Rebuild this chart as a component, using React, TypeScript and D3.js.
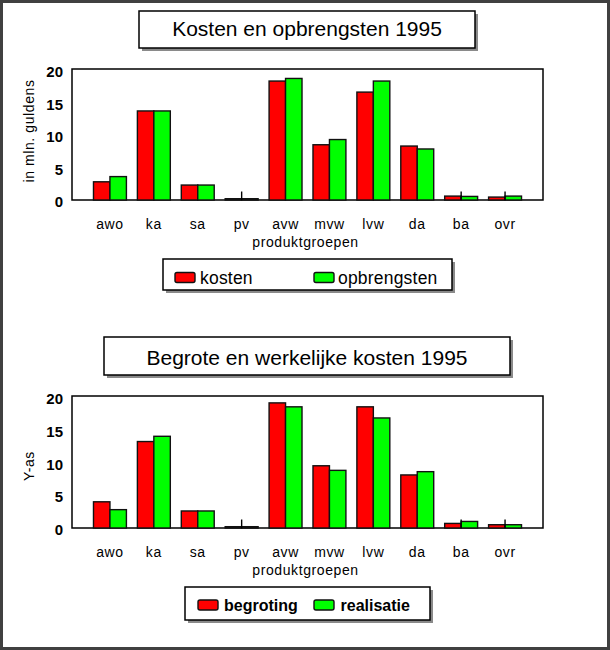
import React from "react";
import * as d3 from "d3";

const categories = ["awo", "ka", "sa", "pv", "avw", "mvw", "lvw", "da", "ba", "ovr"];
const kosten = [2.8, 13.7, 2.3, 0.2, 18.3, 8.5, 16.6, 8.3, 0.6, 0.45];
const opbrengsten = [3.6, 13.7, 2.3, 0.2, 18.7, 9.3, 18.3, 7.85, 0.55, 0.6];
const begroting = [4.0, 13.2, 2.6, 0.2, 19.1, 9.5, 18.5, 8.1, 0.7, 0.5];
const realisatie = [2.8, 14.0, 2.6, 0.2, 18.5, 8.8, 16.8, 8.6, 1.0, 0.5];
const yTicks = [0, 5, 10, 15, 20];
const seriesColors = ["#ff0000", "#00ff00"];

const FONT = "'Liberation Sans', Arial, Helvetica, sans-serif";

type ChartProps = {
  title: string;
  titleBox: [number, number, number, number];
  titleBaseline: number;
  plotTop: number;
  plotBottom: number;
  yLabel: string;
  yLabelCenter: number;
  series: number[][];
  names: string[];
  legendBox: [number, number, number, number];
  swatchX: [number, number];
  textX: [number, number];
  swatchY: number;
  legendBaseline: number;
  legendBold: boolean;
};

function Chart(p: ChartProps) {
  const plotLeft = 72;
  const plotRight = 543;
  const x = d3
    .scaleBand<string>()
    .domain(categories)
    .range([plotLeft + 16, plotRight - 16])
    .paddingInner(0.25)
    .paddingOuter(0.125);
  const xs = d3
    .scaleBand<number>()
    .domain(p.series.map((_, i) => i))
    .range([0, x.bandwidth()]);
  const y = d3.scaleLinear().domain([0, 20]).range([p.plotBottom, p.plotTop + 1]);
  const [tx0, ty0, tx1, ty1] = p.titleBox;
  const [lx0, ly0, lx1, ly1] = p.legendBox;
  return (
    <g>
      <rect x={tx0 + 3} y={ty0 + 3} width={tx1 - tx0} height={ty1 - ty0} fill="#8a8a8a" />
      <rect x={tx0} y={ty0} width={tx1 - tx0} height={ty1 - ty0} fill="#fff" stroke="#000" strokeWidth={1.5} />
      <text x={(tx0 + tx1) / 2} y={p.titleBaseline} textAnchor="middle" fontSize={21} fontFamily={FONT} fill="#000">
        {p.title}
      </text>

      <rect x={plotLeft} y={p.plotTop} width={plotRight - plotLeft} height={p.plotBottom - p.plotTop} fill="#fff" stroke="#000" strokeWidth={1.5} />

      {categories.map((c, ci) => (
        <g key={c}>
          {p.series.map((vals, si) => {
            const bx = (x(c) as number) + (xs(si) as number);
            const by = y(vals[ci]);
            return (
              <rect
                key={si}
                x={bx}
                y={by}
                width={xs.bandwidth()}
                height={Math.max(p.plotBottom - by, 1)}
                fill={seriesColors[si]}
                stroke="#111"
                strokeWidth={1.4}
              />
            );
          })}
          {Math.max(...p.series.map((s) => s[ci])) < 1.2 ? (
            <line
              x1={(x(c) as number) + x.bandwidth() / 2}
              x2={(x(c) as number) + x.bandwidth() / 2}
              y1={p.plotBottom}
              y2={p.plotBottom - 8.5}
              stroke="#000"
              strokeWidth={1.4}
            />
          ) : null}
        </g>
      ))}

      {yTicks.map((t) => (
        <text key={t} x={63} y={y(t) + 1.5} textAnchor="end" dominantBaseline="central" fontSize={15} fontWeight="bold" fontFamily={FONT} fill="#000">
          {t}
        </text>
      ))}

      {categories.map((c) => (
        <text
          key={c}
          x={(x(c) as number) + x.bandwidth() / 2}
          y={p.plotBottom + 29}
          textAnchor="middle"
          fontSize={14}
          letterSpacing={0.6}
          fontFamily={FONT}
          fill="#000"
        >
          {c}
        </text>
      ))}
      <text
        x={(plotLeft + plotRight) / 2 - 2}
        y={p.plotBottom + 46.5}
        textAnchor="middle"
        fontSize={14}
        letterSpacing={0.6}
        fontFamily={FONT}
        fill="#000"
      >
        produktgroepen
      </text>

      <text
        transform={`translate(34, ${p.yLabelCenter}) rotate(-90)`}
        textAnchor="middle"
        fontSize={14}
        letterSpacing={0.6}
        fontFamily={FONT}
        fill="#000"
      >
        {p.yLabel}
      </text>

      <rect x={lx0 + 3} y={ly0 + 3} width={lx1 - lx0} height={ly1 - ly0} fill="#8a8a8a" />
      <rect x={lx0} y={ly0} width={lx1 - lx0} height={ly1 - ly0} fill="#fff" stroke="#000" strokeWidth={1.5} />
      {p.names.map((n, i) => (
        <g key={n}>
          <rect x={p.swatchX[i]} y={p.swatchY} width={20} height={10} rx={2} fill={seriesColors[i]} stroke="#111" strokeWidth={1.4} />
          <text
            x={p.textX[i]}
            y={p.legendBaseline}
            fontSize={p.legendBold ? 16 : 17.5}
            fontWeight={p.legendBold ? "bold" : "normal"}
            letterSpacing={p.legendBold ? 0 : 0.2}
            fontFamily={FONT}
            fill="#000"
          >
            {n}
          </text>
        </g>
      ))}
    </g>
  );
}

export default function App() {
  return (
    <svg
      width={610}
      height={650}
      viewBox="0 0 610 650"
      style={{ position: "absolute", left: 0, top: 0, background: "#fff" }}
    >
      <rect x={0} y={0} width={610} height={650} fill="#fff" />
      <Chart
        title="Kosten en opbrengsten 1995"
        titleBox={[139, 11, 475, 48]}
        titleBaseline={36}
        plotTop={69}
        plotBottom={200}
        yLabel="in mln. guldens"
        yLabelCenter={131}
        series={[kosten, opbrengsten]}
        names={["kosten", "opbrengsten"]}
        legendBox={[163, 259, 452, 290]}
        swatchX={[175, 314]}
        textX={[200, 338]}
        swatchY={272.5}
        legendBaseline={283.5}
        legendBold={false}
      />
      <Chart
        title="Begrote en werkelijke kosten 1995"
        titleBox={[104, 337, 510, 375]}
        titleBaseline={364.5}
        plotTop={396}
        plotBottom={528}
        yLabel="Y-as"
        yLabelCenter={466}
        series={[begroting, realisatie]}
        names={["begroting", "realisatie"]}
        legendBox={[185, 587, 430, 620]}
        swatchX={[198, 314]}
        textX={[224, 340.5]}
        swatchY={600}
        legendBaseline={611}
        legendBold={true}
      />
      <rect x={1.5} y={1.5} width={607} height={647} fill="none" stroke="#404040" strokeWidth={3} />
    </svg>
  );
}
